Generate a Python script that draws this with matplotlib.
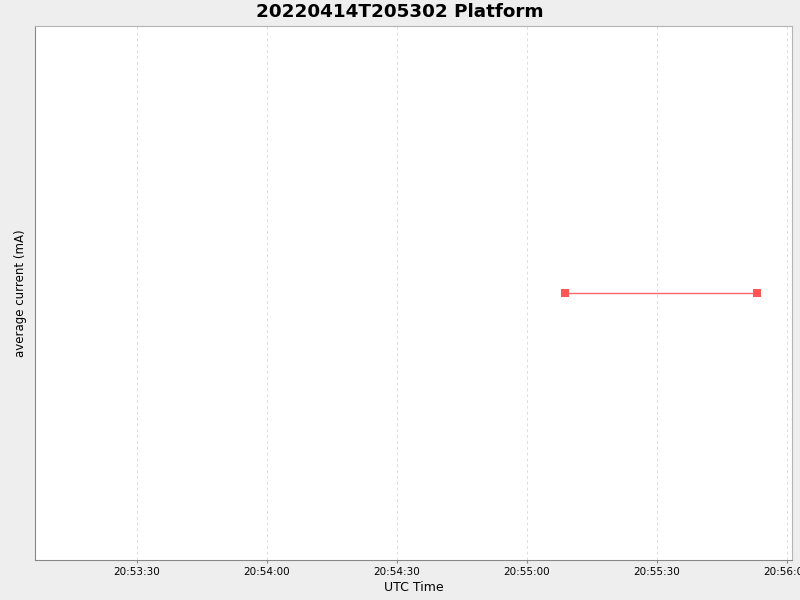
import matplotlib
matplotlib.use('Agg')
import matplotlib.pyplot as plt
import matplotlib.dates as mdates
from datetime import datetime

# sample times (UTC) and average current
times = [datetime(2022, 4, 14, 20, 55, 8, 770000),
         datetime(2022, 4, 14, 20, 55, 53, 80000)]
current = [1.0, 1.0]

x_start = datetime(2022, 4, 14, 20, 53, 6, 550000)
x_end = datetime(2022, 4, 14, 20, 56, 1, 150000)

fig = plt.figure(figsize=(8, 6), dpi=100, facecolor='#EEEEEE')
ax = fig.add_axes([35/800, 40/600, 757/800, 534/600])
ax.set_facecolor('white')

ax.plot(times, current, '-', color='#FF6666', lw=1.0,
        marker='s', markersize=6, markerfacecolor='#FF5555', markeredgewidth=0)

ax.set_xlim(x_start, x_end)
ax.set_ylim(0.5, 1.5)
ax.xaxis.set_major_locator(mdates.SecondLocator(bysecond=[0, 30]))
ax.xaxis.set_major_formatter(mdates.DateFormatter('%H:%M:%S'))
ax.set_yticks([])

ax.grid(axis='x', color='#DDDDDD', linestyle=(0, (3, 3)), lw=0.7)
for side in ['top', 'right']:
    ax.spines[side].set_color('#B4B4B4')
for side in ['left', 'bottom']:
    ax.spines[side].set_color('#888888')
ax.tick_params(axis='x', labelsize=7.5, length=2, color='#888888', pad=3)

ax.set_xlabel('UTC Time', fontsize=9, labelpad=3)
ax.set_ylabel('average current (mA)', fontsize=8.5, labelpad=6)
fig.text(0.5, 1 - 12/600, '20220414T205302 Platform', fontsize=13.2,
         fontweight='bold', ha='center', va='center')

fig.savefig('out.png', dpi=100, facecolor=fig.get_facecolor())
